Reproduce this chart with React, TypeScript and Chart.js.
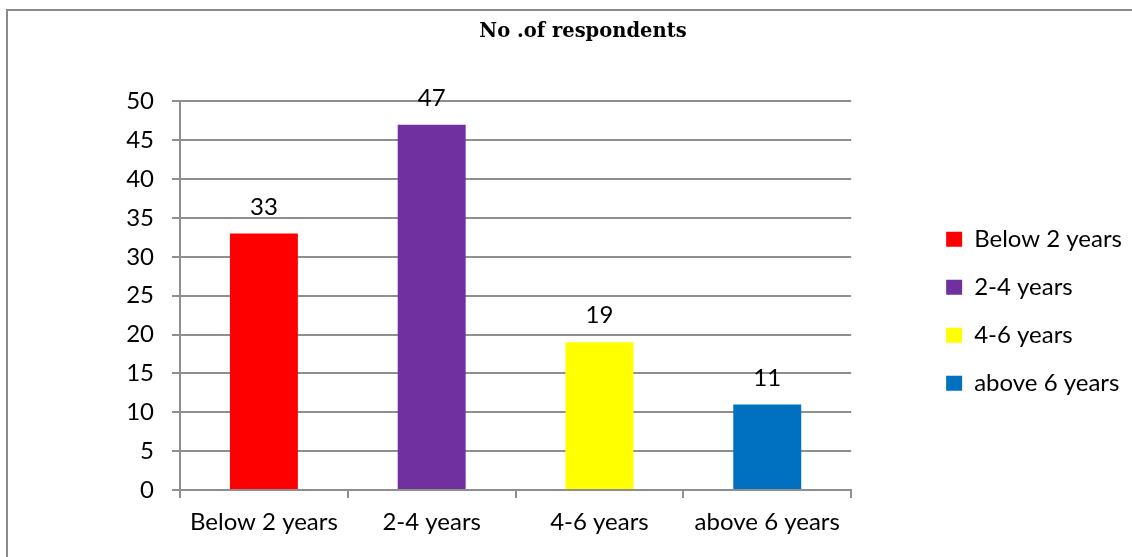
import React, { useEffect, useRef } from "react";
import { Chart, registerables } from "chart.js";

Chart.register(...registerables);

const categories: string[] = ["Below 2 years", "2-4 years", "4-6 years", "above 6 years"];
const respondents: number[] = [33, 47, 19, 11];
const barColors: string[] = ["#FF0000", "#7030A0", "#FFFF00", "#0070C0"];
const chartTitle = "No .of respondents";

const FONT = "Lato";
const GRID = "#8f8f8f";

const dataLabelPlugin = {
  id: "dataLabels",
  afterDatasetsDraw(chart: any) {
    const { ctx } = chart;
    const meta = chart.getDatasetMeta(0);
    ctx.save();
    ctx.font = `24px ${FONT}`;
    ctx.fillStyle = "#000";
    ctx.textAlign = "center";
    ctx.textBaseline = "alphabetic";
    meta.data.forEach((bar: any, i: number) => {
      const v = chart.data.datasets[0].data[i];
      ctx.fillText(String(v), bar.x, bar.y - 19);
    });
    ctx.restore();
  },
};

export default function App() {
  const canvasRef = useRef<HTMLCanvasElement | null>(null);

  useEffect(() => {
    const canvas = canvasRef.current;
    if (!canvas) return;
    let chart: any = null;
    let cancelled = false;
    const build = () => {
      if (cancelled) return;
      chart = new Chart(canvas, {
        type: "bar",
        data: {
          labels: categories,
          datasets: [
            {
              label: chartTitle,
              data: respondents,
              backgroundColor: barColors,
              borderWidth: 0,
              barPercentage: 0.405,
              categoryPercentage: 1,
            },
          ],
        },
        plugins: [dataLabelPlugin],
        options: {
          responsive: false,
          animation: false,
          layout: { padding: { left: 34, right: 0, top: 0, bottom: 0 } },
          plugins: {
            tooltip: { enabled: false },
            title: {
              display: true,
              text: chartTitle,
              color: "#000",
              font: { family: "DejaVu Serif", size: 19.5, weight: "bold" },
              padding: { top: 20, bottom: 58 },
            },
            legend: {
              display: true,
              position: "right",
              fullSize: false,
              align: "center",
              maxWidth: 320,
              title: { display: true, text: " ", padding: 0, font: { size: 26 } },
              labels: {
                color: "#000",
                font: { family: FONT, size: 24 },
                boxWidth: 16,
                boxHeight: 15,
                padding: 24,
                generateLabels: () =>
                  categories.map((c, i) => ({
                    text: c,
                    fillStyle: barColors[i],
                    strokeStyle: barColors[i],
                    fontColor: "#000",
                    lineWidth: 0,
                    hidden: false,
                    index: i,
                    datasetIndex: 0,
                  })),
              },
            },
          },
          scales: {
            x: {
              offset: true,
              grid: {
                display: true,
                drawOnChartArea: false,
                drawTicks: true,
                tickLength: 8,
                color: GRID,
                lineWidth: 2,
                offset: true,
              },
              border: { display: true, color: GRID, width: 2 },
              ticks: { color: "#000", font: { family: FONT, size: 24 }, padding: 10 },
              afterFit: (s: any) => {
                s.height = 67;
              },
            },
            y: {
              min: 0,
              max: 50,
              ticks: { stepSize: 5, color: "#000", font: { family: FONT, size: 24 }, padding: 18 },
              grid: { color: GRID, lineWidth: 2, tickLength: 8, drawTicks: true },
              border: { display: true, color: GRID, width: 2 },
              afterFit: (s: any) => {
                s.width = 146;
              },
            },
            spacer: {
              type: "linear",
              position: "right",
              display: true,
              grid: { display: false, drawTicks: false },
              ticks: { display: false },
              border: { display: false },
              afterFit: (s: any) => {
                s.width = 71;
              },
            },
          },
        },
      } as any);
    };
    const fonts: any = (document as any).fonts;
    if (fonts && fonts.load) {
      Promise.all([
        fonts.load(`24px ${FONT}`),
        fonts.load(`bold 19.5px "DejaVu Serif"`),
      ])
        .catch(() => null)
        .then(() => build());
    } else {
      build();
    }
    return () => {
      cancelled = true;
      if (chart) chart.destroy();
    };
  }, []);

  return (
    <div
      style={{
        position: "absolute",
        left: 0,
        top: 0,
        width: 1132,
        height: 557,
        overflow: "hidden",
        background: "#fff",
      }}
    >
      <div
        style={{
          position: "absolute",
          left: 6,
          top: 9,
          width: 1300,
          height: 700,
          border: "2px solid #8a8a8a",
        }}
      />
      <canvas
        ref={canvasRef}
        width={1132}
        height={557}
        style={{ position: "absolute", left: 0, top: 0, width: 1132, height: 557 }}
      />
    </div>
  );
}
